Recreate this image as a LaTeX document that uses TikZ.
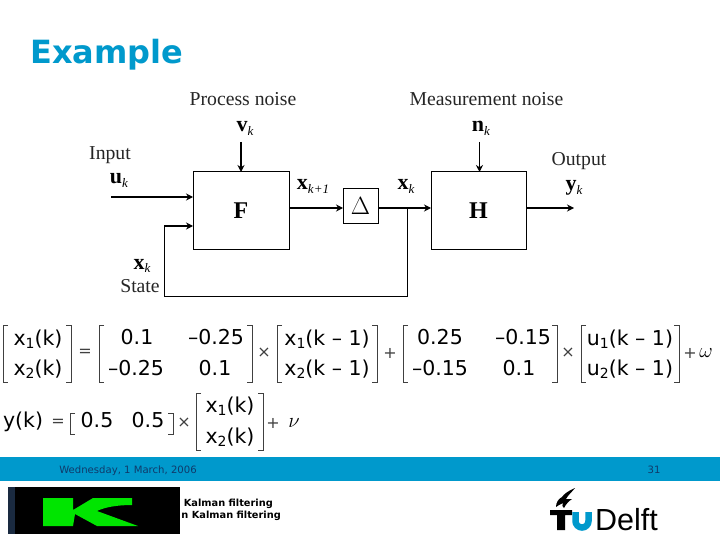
\documentclass[tikz,border=0pt]{standalone}
\usepackage{fontspec}
\setmainfont{Liberation Serif}
\newfontfamily\eqfont{DejaVu Sans}
\newfontfamily\logofont{Liberation Sans}
\usetikzlibrary{arrows.meta}
\definecolor{tublue}{HTML}{0099CC}
\definecolor{footink}{HTML}{103A6A}
\definecolor{stripdark}{HTML}{1A2A40}
\newcommand{\bk}[2]{\textbf{#1}\raisebox{-3.5pt}{\fontsize{13}{13}\selectfont\textit{#2}}}
\newcommand{\eqsub}[1]{\raisebox{-3.5pt}{\fontsize{14}{14}\selectfont #1}}
\newcommand{\brk}[4]{%
  \draw[brk] (#1+5,#3) -- (#1,#3) -- (#1,#4) -- (#1+5,#4);
  \draw[brk] (#2-5,#3) -- (#2,#3) -- (#2,#4) -- (#2-5,#4);}
\tikzset{
  blockbox/.style={draw,line width=1pt,inner sep=0pt,outer sep=0pt},
  flow/.style={line width=1.6pt,-{Stealth[length=7pt,width=7pt]}},
  thinflow/.style={line width=0.9pt,-{Stealth[length=7pt,width=7pt]}},
  lab/.style={inner sep=0pt,anchor=base,font=\fontsize{19.7}{19.7}\selectfont,text=black!85},
  sym/.style={inner sep=0pt,anchor=base,font=\fontsize{22}{22}\selectfont},
  eq/.style={inner sep=0pt,anchor=base,font=\eqfont\fontsize{20.5}{20.5}\selectfont},
  op/.style={inner sep=0pt,font=\eqfont\fontsize{16}{16}\selectfont,text=black!75},
  brk/.style={line width=1pt,black!75},
  foot/.style={inner sep=0pt,anchor=base,font=\eqfont\fontsize{10.1}{10.1}\selectfont,text=footink},
  kal/.style={inner sep=0pt,anchor=base east,font=\eqfont\bfseries\fontsize{9.8}{9.8}\selectfont}
}
\begin{document}
\begin{tikzpicture}[x=1pt,y=-1pt]
\useasboundingbox (0,0) rectangle (720,540);
\fill[white] (0,0) rectangle (720,540);
\node[inner sep=0pt,anchor=base west,text=tublue,font=\eqfont\bfseries\fontsize{32}{32}\selectfont] (title) at (30,64) {Example};

% block diagram
\node[blockbox,minimum width=96pt,minimum height=77pt,anchor=north west,font=\fontsize{24}{24}\selectfont\bfseries] (F) at (193,172) {F};
\node[blockbox,minimum width=35pt,minimum height=35pt,anchor=north west,font=\fontsize{24}{24}\selectfont] (D) at (343,189) {$\Delta$};
\node[blockbox,minimum width=95pt,minimum height=77pt,anchor=north west,font=\fontsize{24}{24}\selectfont\bfseries] (H) at (431,172) {H};
\coordinate (vin) at (241,142);
\coordinate (nin) at (479.5,142);
\coordinate (uin) at (111,197);
\coordinate (fbin) at (193,226);
\coordinate (fbc) at (164,226);
\coordinate (fbb) at (164,296);
\coordinate (fbr) at (407.5,296);
\coordinate (fbt) at (407.5,208);
\coordinate (yout) at (574,208);
\draw[flow] (vin) -- (vin |- F.north);
\draw[thinflow] (nin) -- (nin |- H.north);
\draw[flow] (uin) -- (uin -| F.west);
\draw[flow] (F.east |- yout) -- (D.west |- yout);
\draw[flow] (D.east |- yout) -- (H.west |- yout);
\draw[flow] (H.east |- yout) -- (yout);
\draw[line width=0.9pt] (fbt) -- (fbr) -- (fbb) -- (fbc);
\draw[flow,line width=1.2pt] (fbc) -- (fbin);

\node[lab] (pn) at (243,106) {Process noise};
\node[lab] (mn) at (486.5,106) {Measurement noise};
\node[lab] (inp) at (110,160) {Input};
\node[lab] (outp) at (579,166) {Output};
\node[lab] (st) at (140,292) {State};
\node[sym] (vk) at (245,132) {\bk{v}{k}};
\node[sym] (nk) at (481,132) {\bk{n}{k}};
\node[sym] (uk) at (119,184) {\bk{u}{k}};
\node[sym] (yk) at (574,191) {\bk{y}{k}};
\node[sym] (xkp) at (313,190) {\bk{x}{k+1}};
\node[sym] (xk) at (406,190) {\bk{x}{k}};
\node[sym] (xks) at (142,269) {\bk{x}{k}};

% equation 1
\brk{3}{71}{325}{382}
\node[eq] (a1) at (38,345) {x\eqsub{1}(k)};
\node[eq] (a2) at (38,375) {x\eqsub{2}(k)};
\node[op] (eq1) at (85,353) {=};
\brk{99}{252}{325}{382}
\node[eq] (b11) at (137,344) {0.1};
\node[eq] (b12) at (216,344) {–0.25};
\node[eq] (b21) at (136,375) {–0.25};
\node[eq] (b22) at (215,375) {0.1};
\node[op] (t1) at (264,353) {×};
\brk{277}{377}{325}{382}
\node[eq] (c1) at (327,345) {x\eqsub{1}(k – 1)};
\node[eq] (c2) at (327,375) {x\eqsub{2}(k – 1)};
\node[op] (p1) at (390,353) {+};
\brk{403}{557}{325}{382}
\node[eq] (d11) at (440,344) {0.25};
\node[eq] (d12) at (523,344) {–0.15};
\node[eq] (d21) at (440,375) {–0.15};
\node[eq] (d22) at (519,375) {0.1};
\node[op] (t2) at (568,353) {×};
\brk{581}{679}{325}{382}
\node[eq] (e1) at (630,345) {u\eqsub{1}(k – 1)};
\node[eq] (e2) at (630,375) {u\eqsub{2}(k – 1)};
\node[op] (p2) at (690,353) {+};
\node[inner sep=0pt,font=\fontsize{22}{22}\selectfont] (om) at (706,353) {$\omega$};

% equation 2
\node[eq] (y) at (23,427) {y(k)};
\node[op] (eq2) at (58,423) {=};
\brk{70}{173}{413}{434}
\node[eq] (f1) at (97,427) {0.5};
\node[eq] (f2) at (148,427) {0.5};
\node[op] (t3) at (184,423) {×};
\brk{196}{263}{393}{450}
\node[eq] (g1) at (230,412) {x\eqsub{1}(k)};
\node[eq] (g2) at (230,443) {x\eqsub{2}(k)};
\node[op] (p3) at (273,423) {+};
\node[inner sep=0pt,font=\fontsize{22}{22}\selectfont] (nu) at (294,423) {$\nu$};

% footer
\fill[tublue] (0,457) rectangle (720,481);
\node[foot] (date) at (128,473) {Wednesday, 1 March, 2006};
\node[foot] (page) at (654,473) {31};
\node[kal] (k1) at (273,506) {Kalman filtering};
\node[kal] (k2) at (281,518) {n Kalman filtering};

% K logo
\fill[stripdark] (8,487) rectangle (15,534);
\fill[black] (15,487) rectangle (180,534);
\fill[green!90!black] (43,498) -- (73,498) -- (73,510) -- (93,498) -- (132,498) -- (132,505)
  .. controls (118,505) and (105,507) .. (97,511) -- (138,526) -- (97,526) -- (75,514) -- (73,526) -- (43,526) -- cycle;

% TU Delft logo
\fill[black] (550,510) -- (572,510) -- (572,515) -- (565,515) -- (565,530) -- (557,530) -- (557,515) -- (550,515) -- cycle;
\draw[tublue,line width=6.5pt] (575.5,512) -- (575.5,521) arc[start angle=180,end angle=0,radius=6.5] -- (588.5,512);
\fill[black] (575,488) .. controls (568,491) and (564,494) .. (562,497)
  .. controls (558,499) and (556,503) .. (556,507)
  .. controls (558,506) and (560,504) .. (563,503)
  .. controls (562,505) and (562,507) .. (564,508)
  .. controls (566,504) and (569,501) .. (572,499)
  .. controls (569,499) and (567,499) .. (566,499)
  .. controls (568,495) and (572,492) .. (575,488) -- cycle;
\node[inner sep=0pt,anchor=base west,font=\logofont\fontsize{30.5}{30.5}\selectfont] (delft) at (595,530) {Delft};
\end{tikzpicture}
\end{document}
